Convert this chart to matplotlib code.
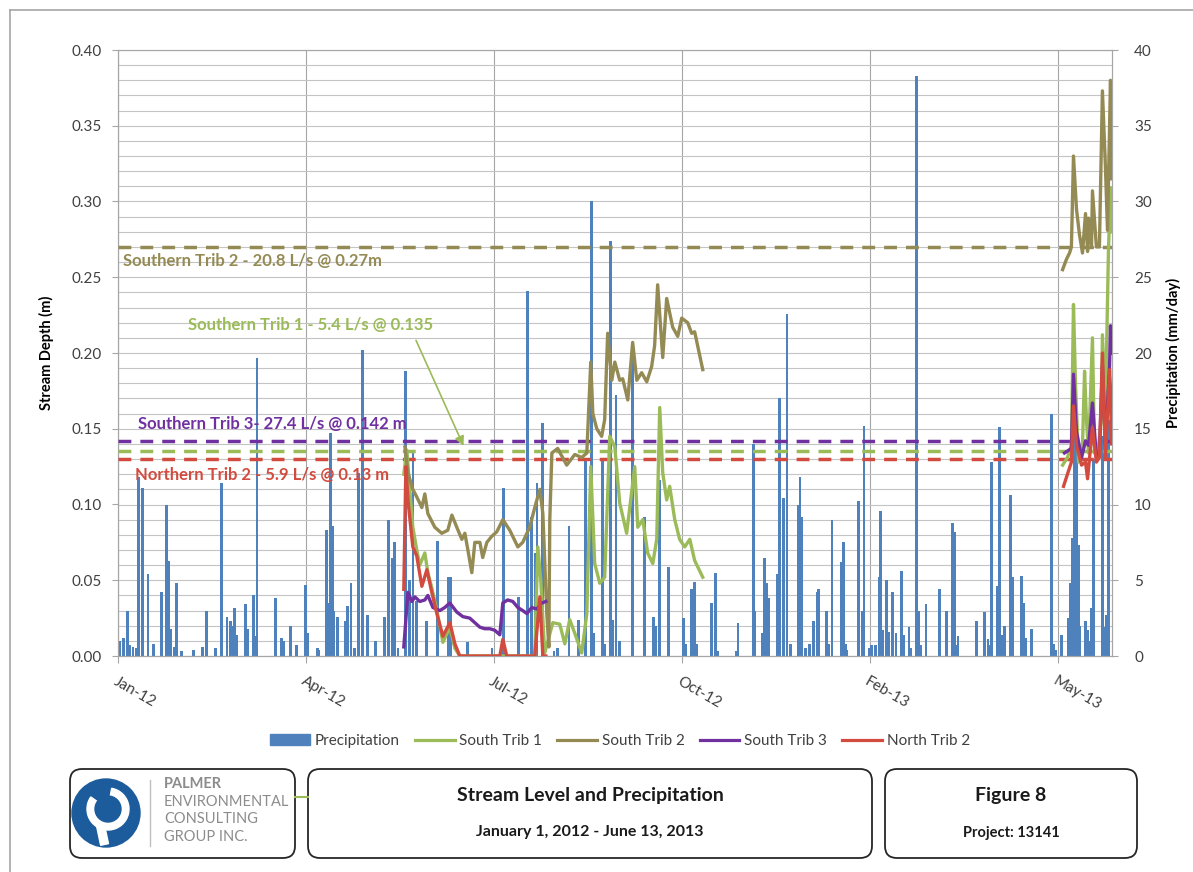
import numpy as np
import matplotlib
matplotlib.use("Agg")
import matplotlib.pyplot as plt
from matplotlib.patches import FancyBboxPatch, Circle, Wedge, Rectangle
from matplotlib.lines import Line2D
from matplotlib.ticker import MultipleLocator

plt.rcParams['font.family'] = ['Lato', 'DejaVu Sans']

# ---- data (x = days since Jan 1 2012) ----
precip_day = [1, 3, 5, 6, 8, 10, 11, 13, 16, 19, 23, 26, 27, 28, 30, 31, 34, 40, 45, 47,
              52, 55, 58, 60, 61, 62, 63, 68, 69, 72, 73, 74, 84, 87, 88, 92, 95, 100, 101, 106,
              107, 111, 112, 113, 114, 115, 117, 121, 122, 124, 126, 128, 130, 133, 137, 142, 144, 146, 147, 149,
              153, 155, 157, 159, 164, 170, 176, 177, 186, 199, 205, 213, 218, 220, 222, 223, 226, 232, 234, 240,
              245, 249, 252, 253, 258, 259, 262, 263, 265, 267, 274, 280, 285, 286, 288, 293, 301, 302, 305, 307,
              308, 316, 318, 319, 329, 330, 338, 339, 343, 344, 345, 346, 351, 352, 354, 356, 358, 362, 363, 364,
              366, 368, 370, 372, 373, 377, 378, 380, 385, 386, 387, 388, 394, 396, 397, 400, 401, 403, 405, 406,
              407, 409, 410, 412, 414, 417, 418, 421, 422, 425, 426, 427, 430, 437, 441, 444, 445, 446, 447, 457,
              461, 463, 464, 465, 468, 469, 470, 472, 475, 476, 481, 482, 483, 486, 497, 498, 499, 502, 506, 507,
              508, 509, 510, 511, 512, 515, 516, 517, 518, 519, 524, 525, 526, 527]
precip_mm = [1.0, 1.2, 3.0, 0.7, 0.6, 0.5, 11.8, 11.1, 5.4, 0.8, 4.2, 10.0, 6.3, 1.8, 0.6, 4.8, 0.3, 0.4, 0.6, 3.0,
             0.5, 11.4, 2.6, 2.3, 2.0, 3.2, 1.4, 3.4, 1.8, 4.0, 1.3, 19.7, 3.8, 1.2, 1.0, 2.0, 0.7, 4.7, 1.5, 0.5,
             0.4, 8.3, 3.5, 14.7, 8.6, 3.0, 2.6, 2.3, 3.3, 4.8, 0.5, 12.1, 20.2, 2.7, 1.0, 2.6, 9.0, 6.5, 7.5, 0.5,
             18.8, 5.0, 13.6, 3.6, 2.3, 7.6, 5.2, 5.2, 0.9, 0.5, 11.1, 3.9, 24.1, 9.2, 6.8, 11.4, 15.4, 0.3, 0.5, 8.6,
             2.4, 13.1, 30.0, 1.5, 13.1, 0.8, 27.4, 2.4, 17.2, 1.0, 20.0, 9.2, 2.6, 2.0, 11.6, 5.9, 2.5, 0.8, 4.4, 4.9,
             0.8, 3.5, 5.5, 0.3, 0.3, 2.2, 14.0, 3.0, 1.5, 6.5, 4.8, 3.8, 5.4, 17.0, 10.4, 22.6, 0.8, 10.0, 11.8, 9.2,
             0.5, 0.8, 2.3, 4.2, 4.4, 3.0, 0.8, 9.0, 6.2, 7.5, 0.8, 0.4, 10.2, 3.0, 15.2, 0.5, 0.7, 0.7, 5.2, 9.6,
             1.7, 5.0, 1.6, 4.2, 1.5, 5.6, 1.4, 1.9, 0.5, 38.3, 3.0, 0.7, 3.4, 4.4, 3.0, 8.8, 8.2, 0.7, 1.3, 2.3,
             2.9, 1.1, 0.7, 12.8, 4.6, 15.1, 1.4, 2.0, 10.6, 5.2, 5.3, 3.5, 1.2, 1.8, 16.0, 0.8, 0.4, 1.4, 2.5, 4.8,
             7.8, 15.0, 14.0, 7.3, 2.0, 2.3, 1.7, 1.0, 3.2, 13.0, 14.5, 1.9, 2.7, 15.6]

nan = np.nan
trib1_day = [152.1, 153.7, 155.3, 156.9, 159.0, 160.6, 163.3, 164.9, 167.0, 169.7, 172.9, 176.6, 179.3, 181.9,
             221.8, 223.4, 225.0, 227.1, 231.4, 235.1, 237.8, 240.4, 243.1, 246.8, 249.5, 251.6, 253.7, 256.4,
             259.0, 261.7, 264.4, 267.0, 270.7, 275.0, 276.6, 279.3, 281.9, 284.6, 286.7, 288.3, 289.9, 292.0,
             293.6, 296.3, 298.9, 301.6, 304.3, 306.9, 311.2, 400.0,
             502.7, 505.3, 507.4, 508.5, 509.6, 511.2, 513.3, 514.4, 515.4, 516.5, 518.6, 519.7, 521.3, 523.4,
             523.9, 525.5, 527.1, 528.2, 528.7]
trib1_m = [0.12, 0.136, 0.11, 0.085, 0.070, 0.060, 0.068, 0.055, 0.045, 0.030, 0.009, 0.019, 0.005, 0.0,
           0.0, 0.072, 0.050, 0.002, 0.022, 0.021, 0.008, 0.024, 0.015, 0.002, 0.028, 0.125, 0.061, 0.048,
           0.052, 0.145, 0.138, 0.101, 0.081, 0.125, 0.085, 0.090, 0.068, 0.061, 0.077, 0.164, 0.121, 0.103,
           0.112, 0.090, 0.077, 0.072, 0.077, 0.063, 0.052, nan,
           0.126, 0.131, 0.139, 0.232, 0.178, 0.128, 0.139, 0.188, 0.156, 0.134, 0.21, 0.134, 0.133, 0.156,
           0.212, 0.162, 0.267, 0.309, 0.28]

trib2_day = [152.7, 154.3, 156.9, 159.0, 161.7, 163.3, 164.9, 168.6, 172.3, 175.5, 177.7, 180.3, 183.0, 184.6,
             186.2, 188.3, 189.9, 192.6, 194.1, 196.3, 198.9, 201.6, 204.8, 208.5, 212.8, 215.4, 219.1, 221.8,
             224.5, 226.1, 228.2, 229.3, 229.8, 230.9, 234.0, 238.8, 243.1, 246.8, 249.5, 251.6, 252.7, 254.8,
             257.4, 259.0, 260.6, 262.8, 264.4, 267.0, 268.6, 271.3, 273.9, 276.1, 278.7, 281.4, 284.0, 285.6,
             287.2, 289.9, 292.0, 295.2, 297.9, 300.0, 303.2, 305.3, 306.9, 311.2, 400.0,
             502.7, 504.8, 506.4, 507.4, 508.5, 510.1, 511.7, 513.3, 514.9, 516.0, 516.5, 518.1, 518.6, 520.7,
             522.3, 523.9, 525.5, 526.6, 528.2, 528.7]
trib2_m = [0.138, 0.121, 0.110, 0.105, 0.098, 0.107, 0.094, 0.085, 0.081, 0.083, 0.093, 0.085, 0.077, 0.081,
           0.070, 0.055, 0.075, 0.075, 0.065, 0.075, 0.079, 0.082, 0.090, 0.083, 0.072, 0.075, 0.085, 0.098,
           0.110, 0.094, 0.028, 0.006, 0.090, 0.134, 0.137, 0.126, 0.133, 0.131, 0.134, 0.194, 0.160, 0.150,
           0.145, 0.156, 0.213, 0.182, 0.194, 0.182, 0.183, 0.169, 0.207, 0.182, 0.187, 0.181, 0.191, 0.205,
           0.245, 0.197, 0.236, 0.217, 0.211, 0.223, 0.220, 0.213, 0.214, 0.189, nan,
           0.255, 0.262, 0.266, 0.270, 0.330, 0.295, 0.278, 0.266, 0.292, 0.267, 0.289, 0.270, 0.307, 0.270,
           0.270, 0.373, 0.323, 0.281, 0.380, 0.315]

trib3_day = [152.1, 154.3, 156.4, 158.0, 160.6, 163.3, 164.9, 167.6, 171.3, 173.9, 176.6, 180.3, 183.5, 187.2,
             189.9, 192.6, 195.2, 197.9, 200.5, 203.2, 204.8, 207.4, 210.1, 212.8, 215.4, 217.6, 220.2, 222.9,
             225.5, 227.7, 400.0,
             503.7, 507.4, 508.5, 510.1, 512.8, 514.9, 516.5, 518.6, 520.7, 522.3, 523.9, 525.5, 527.7, 528.2, 528.7]
trib3_m = [0.006, 0.042, 0.036, 0.039, 0.036, 0.037, 0.040, 0.032, 0.030, 0.032, 0.035, 0.029, 0.026, 0.025,
           0.022, 0.019, 0.018, 0.018, 0.017, 0.014, 0.035, 0.037, 0.036, 0.032, 0.030, 0.028, 0.032, 0.031,
           0.035, 0.036, nan,
           0.134, 0.137, 0.186, 0.148, 0.131, 0.142, 0.139, 0.167, 0.131, 0.134, 0.192, 0.139, 0.192, 0.218, 0.20]

north2_day = [152.1, 153.2, 154.3, 156.9, 159.0, 161.7, 164.4, 167.0, 169.7, 172.9, 176.6, 179.3, 181.9, 203.2,
              204.8, 206.9, 221.8, 224.5, 226.1, 227.7, 400.0,
              503.2, 505.3, 507.4, 508.5, 510.1, 512.8, 514.9, 516.0, 518.6, 520.7, 522.3, 523.9, 525.5, 527.7,
              528.2, 528.7]
north2_m = [0.044, 0.125, 0.103, 0.072, 0.066, 0.046, 0.057, 0.042, 0.028, 0.013, 0.022, 0.008, 0.0, 0.0,
            0.011, 0.0, 0.0, 0.039, 0.0, 0.0, nan,
            0.112, 0.120, 0.128, 0.165, 0.139, 0.126, 0.128, 0.117, 0.151, 0.128, 0.131, 0.200, 0.131, 0.189,
            0.176, 0.14]

thresholds = [0.27, 0.135, 0.142, 0.13]
threshold_labels = ['Southern Trib 2 - 20.8 L/s @ 0.27m', 'Southern Trib 1 - 5.4 L/s @ 0.135',
                    'Southern Trib 3- 27.4 L/s @ 0.142 m', 'Northern Trib 2 - 5.9 L/s @ 0.13 m']
xtick_days = [0, 100, 200, 300, 400, 500]
xtick_labels = ['Jan-12', 'Apr-12', 'Jul-12', 'Oct-12', 'Feb-13', 'May-13']

BLUE = '#4F81BD'
GREEN = '#9BBB59'
OLIVE = '#948A54'
PURPLE = '#7030A0'
RED = '#D24B3E'
TXT = '#404040'

W, H = 1193, 872
fig = plt.figure(figsize=(W / 100, H / 100), dpi=100)

# precipitation axis (behind), depth axis (front)
axp = fig.add_axes([118 / W, 1 - 656 / H, (1112 - 118) / W, (656 - 50) / H])
ax = axp.twinx()
ax.set_zorder(axp.get_zorder() + 1)
ax.patch.set_visible(False)

axp.bar(precip_day, precip_mm, width=1.5, color=BLUE, zorder=2)
axp.set_ylim(0, 40)
axp.set_xlim(0, 529)
axp.yaxis.set_major_locator(MultipleLocator(5))
axp.yaxis.set_minor_locator(MultipleLocator(1))
axp.grid(axis='y', which='both', color='#C4C4C4', lw=0.8, zorder=0)
axp.set_xticks(xtick_days)
axp.set_xticklabels(xtick_labels, rotation=-30, ha='left', va='top', rotation_mode='anchor')
axp.grid(axis='x', which='major', color='#A6A6A6', lw=0.8)
axp.set_axisbelow(True)
axp.yaxis.tick_right()
axp.yaxis.set_label_position('right')
axp.set_ylabel('Precipitation (mm/day)', fontsize=10.5, fontweight='bold', labelpad=10)
axp.tick_params(axis='y', which='minor', length=0)
axp.tick_params(axis='y', which='major', labelsize=11, colors=TXT, length=4, color='#A6A6A6', pad=12)
axp.tick_params(axis='x', labelsize=11, colors=TXT, length=5, color='#A6A6A6', pad=8)
for lab in axp.get_xticklabels():
    lab.set_x(lab.get_position()[0])

ax.yaxis.tick_left()
ax.yaxis.set_label_position('left')
ax.set_ylim(0, 0.40)
ax.set_xlim(0, 529)
ax.yaxis.set_major_locator(MultipleLocator(0.05))
ax.yaxis.set_major_formatter(matplotlib.ticker.FormatStrFormatter('%.2f'))
ax.tick_params(axis='y', labelsize=11, colors=TXT, length=4, color='#A6A6A6', pad=8)
ax.set_ylabel('Stream Depth (m)', fontsize=10.5, fontweight='bold', labelpad=12)

for a in (ax, axp):
    for s in a.spines.values():
        s.set_color('#A6A6A6')
        s.set_linewidth(0.8)

# threshold lines
dash = (3.7, 2.6)
for val, col in zip(thresholds, [OLIVE, GREEN, PURPLE, RED]):
    ax.axhline(val, color=col, lw=2.5, dashes=dash, zorder=3)

# data series
ax.plot(trib1_day, trib1_m, color=GREEN, lw=2.4, zorder=4, solid_joinstyle='round')
ax.plot(trib2_day, trib2_m, color=OLIVE, lw=2.4, zorder=4, solid_joinstyle='round')
ax.plot(trib3_day, trib3_m, color=PURPLE, lw=2.4, zorder=5, solid_joinstyle='round')
ax.plot(north2_day, north2_m, color=RED, lw=2.4, zorder=6, solid_joinstyle='round')

# threshold annotations
fs = 12
ax.text(2.7, 0.261, threshold_labels[0], color=OLIVE, fontsize=fs, fontweight='bold', va='center', zorder=7)
ax.text(37, 0.2185, threshold_labels[1], color=GREEN, fontsize=fs, fontweight='bold', va='center', zorder=7)
ax.text(10.6, 0.153, threshold_labels[2], color=PURPLE, fontsize=fs, fontweight='bold', va='center', zorder=7)
ax.text(9, 0.1195, threshold_labels[3], color=RED, fontsize=fs, fontweight='bold', va='center', zorder=7)
ax.annotate('', xy=(184.5, 0.137), xytext=(158, 0.21),
            arrowprops=dict(arrowstyle='-|>', color=GREEN, lw=1.2, mutation_scale=14), zorder=7)

# legend
handles = [Rectangle((0, 0), 1, 1, color=BLUE),
           Line2D([], [], color=GREEN, lw=2.3),
           Line2D([], [], color=OLIVE, lw=2.3),
           Line2D([], [], color=PURPLE, lw=2.3),
           Line2D([], [], color=RED, lw=2.3)]
leg = fig.legend(handles, ['Precipitation', 'South Trib 1', 'South Trib 2', 'South Trib 3', 'North Trib 2'],
                 loc='center', bbox_to_anchor=(620 / W, 1 - 741 / H), ncol=5, frameon=False,
                 fontsize=11, handlelength=2.6, handletextpad=0.3, columnspacing=1.0)
for t in leg.get_texts():
    t.set_color(TXT)

# title block, in pixel coordinates
ov = fig.add_axes([0, 0, 1, 1], zorder=-5)
ov.set_xlim(0, W)
ov.set_ylim(H, 0)
ov.axis('off')
ov.plot([10, 10], [10, H], color='#A6A6A6', lw=1.2)
ov.plot([10, W], [10, 10], color='#A6A6A6', lw=1.2)

for x0, x1 in [(70, 295), (308, 872), (885, 1137)]:
    ov.add_patch(FancyBboxPatch((x0, 769), x1 - x0, 89, boxstyle='round,pad=0,rounding_size=12',
                                fc='white', ec='#262626', lw=1.3))
ov.plot([295, 308], [797, 797], color=GREEN, lw=1.5)

# logo
ov.add_patch(Circle((106, 813), 34, color='#1C5C9C'))
ov.add_patch(Wedge((108, 809), 21, -80, 215, width=8, color='white'))
ov.add_patch(Rectangle((94, 814), 8, 32, angle=-12, color='white'))
ov.add_patch(Circle((108, 809), 13, color='#1C5C9C'))
ov.plot([150, 150], [780, 846], color='#BFBFBF', lw=1)
for i, s in enumerate(['PALMER', 'ENVIRONMENTAL', 'CONSULTING', 'GROUP INC.']):
    ov.text(164, 784 + i * 17.5, s, color='#8C8C8C', fontsize=10.5,
            fontweight='bold' if i == 0 else 'normal', va='center', ha='left')

ov.text(590, 795, 'Stream Level and Precipitation', fontsize=14, fontweight='bold', ha='center', va='center',
        color='#1A1A1A')
ov.text(590, 832, 'January 1, 2012 - June 13, 2013', fontsize=11.5, fontweight='bold', ha='center', va='center',
        color='#1A1A1A')
ov.text(1011, 795, 'Figure 8', fontsize=14, fontweight='bold', ha='center', va='center', color='#1A1A1A')
ov.text(1011, 833, 'Project: 13141', fontsize=10.5, fontweight='bold', ha='center', va='center', color='#1A1A1A')

fig.savefig('out.png', dpi=100)
